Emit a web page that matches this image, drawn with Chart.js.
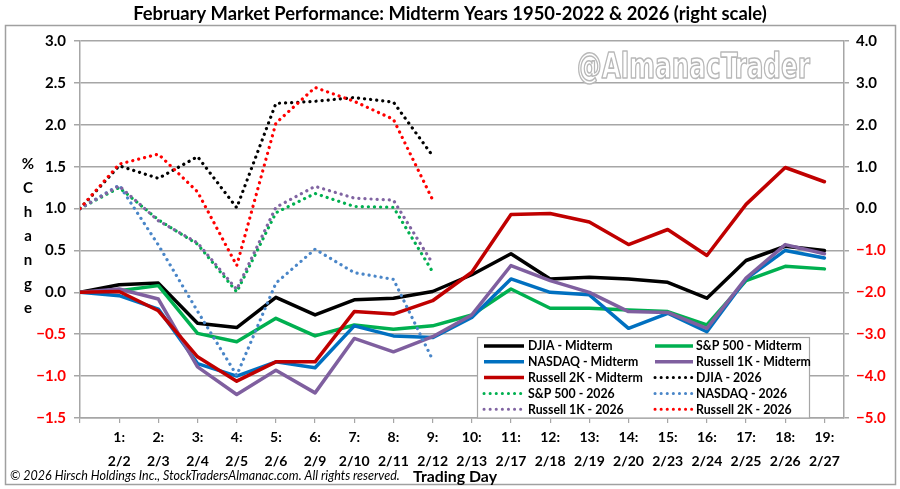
<!DOCTYPE html>
<html><head><meta charset="utf-8">
<script src="https://cdn.jsdelivr.net/npm/chart.js@4.4.1/dist/chart.umd.min.js"></script>
<style>html,body{margin:0;padding:0;background:#fff;overflow:hidden}#wrap{width:900px;height:489px;position:relative}</style>
</head><body><div id="wrap"><canvas id="c" width="900" height="489" style="width:900px;height:489px"></canvas></div>
<script>
// ---- data ----
const dayNumbers = ['1:','2:','3:','4:','5:','6:','7:','8:','9:','10:','11:','12:','13:','14:','15:','16:','17:','18:','19:'];
const dayDates = ['2/2','2/3','2/4','2/5','2/6','2/9','2/10','2/11','2/12','2/13','2/17','2/18','2/19','2/20','2/23','2/24','2/25','2/26','2/27'];
// midterm averages (left scale), day 0 .. 19
const djiaMidterm    = [0, 0.09, 0.11, -0.37, -0.42, -0.06, -0.27, -0.09, -0.07, 0.01, 0.21, 0.46, 0.16, 0.18, 0.16, 0.12, -0.07, 0.38, 0.55, 0.50];
const sp500Midterm   = [0, 0.02, 0.08, -0.49, -0.59, -0.31, -0.52, -0.39, -0.44, -0.40, -0.27, 0.04, -0.19, -0.19, -0.21, -0.23, -0.39, 0.14, 0.31, 0.28];
const nasdaqMidterm  = [0, -0.04, -0.20, -0.85, -1.00, -0.83, -0.90, -0.40, -0.52, -0.54, -0.30, 0.16, 0.00, -0.03, -0.43, -0.25, -0.47, 0.16, 0.50, 0.41];
const r1kMidterm     = [0, 0.04, -0.08, -0.89, -1.22, -0.93, -1.20, -0.55, -0.71, -0.53, -0.27, 0.32, 0.14, 0.00, -0.23, -0.24, -0.43, 0.17, 0.57, 0.46];
const r2kMidterm     = [0, 0.01, -0.22, -0.77, -1.06, -0.83, -0.83, -0.23, -0.26, -0.10, 0.24, 0.93, 0.94, 0.84, 0.57, 0.75, 0.44, 1.05, 1.49, 1.32];
// 2026 (right scale), day 0 .. 9
const djia2026   = [0, 1.02, 0.72, 1.24, 0.02, 2.51, 2.56, 2.65, 2.54, 1.26];
const sp5002026  = [0, 0.50, -0.27, -0.85, -1.99, -0.10, 0.36, 0.05, 0.03, -1.51];
const nasdaq2026 = [0, 0.56, -0.87, -2.45, -3.98, -1.78, -0.97, -1.53, -1.69, -3.61];
const r1k2026    = [0, 0.54, -0.29, -0.82, -1.93, 0.03, 0.53, 0.25, 0.20, -1.31];
const r2k2026    = [0, 1.06, 1.30, 0.40, -1.36, 2.04, 2.89, 2.56, 2.13, 0.21];
const leftMin = -1.5, leftMax = 3.0, leftStep = 0.5;
const rightMin = -5.0, rightMax = 4.0, rightStep = 1.0;
const titleText = 'February Market Performance: Midterm Years 1950-2022 & 2026 (right scale)';
const yTitleLetters = ['%','C','h','a','n','g','e'];
const xTitleText = 'Trading Day';
const copyrightText = '\u00A9 2026 Hirsch Holdings Inc., StockTradersAlmanac.com. All rights reserved.';
const watermarkText = '@AlmanacTrader';

// ---- styling ----
const FONT = 'Lato, "Open Sans", sans-serif';
const GRID = '#A6A6A6';
const pts = arr => arr.map((v, i) => ({x: i, y: v}));
function solid(label, data, color) {
  return {label, data: pts(data), borderColor: color, backgroundColor: color, borderWidth: 3.5,
    pointRadius: 0, tension: 0, yAxisID: 'yL', borderJoinStyle: 'round', borderCapStyle: 'round'};
}
function dotted(label, data, color) {
  return {label, data: pts(data), borderColor: color, backgroundColor: color, borderWidth: 3.2,
    borderDash: [0.1, 6], borderCapStyle: 'round', pointRadius: 0, tension: 0, yAxisID: 'yR'};
}
const datasets = [
  solid('DJIA - Midterm', djiaMidterm, '#000000'),
  solid('S&P 500 - Midterm', sp500Midterm, '#00B050'),
  solid('NASDAQ - Midterm', nasdaqMidterm, '#0070C0'),
  solid('Russell 1K - Midterm', r1kMidterm, '#7F5F9F'),
  solid('Russell 2K - Midterm', r2kMidterm, '#C00000'),
  dotted('DJIA - 2026', djia2026, '#000000'),
  dotted('S&P 500 - 2026', sp5002026, '#00B050'),
  dotted('NASDAQ - 2026', nasdaq2026, '#4A86C8'),
  dotted('Russell 1K - 2026', r1k2026, '#8064A2'),
  dotted('Russell 2K - 2026', r2k2026, '#FF0000'),
];
datasets.forEach((d, i) => d.order = datasets.length - i);

function fitFont(ctx, text, style, family, targetW) {
  ctx.font = style + ' 100px ' + family;
  const w = ctx.measureText(text).width;
  return style + ' ' + (100 * targetW / w).toFixed(2) + 'px ' + family;
}
const fmt = v => (v < 0 ? '\u2212' : '') + Math.abs(v).toFixed(1);
const tickColor = c => (c.tick && c.tick.value < -1e-9) ? '#FF0000' : '#000000';

const decor = {
  id: 'decor',
  beforeDraw(chart) {
    const ctx = chart.ctx;
    ctx.save();
    ctx.fillStyle = '#fff';
    ctx.fillRect(0, 0, chart.width, chart.height);
    ctx.strokeStyle = '#A0A0A0';
    ctx.lineWidth = 1.5;
    ctx.strokeRect(5.5, 25.5, 890, 459);
    ctx.restore();
  },
  beforeDatasetsDraw(chart) {
    const ctx = chart.ctx;
    ctx.save();
    // watermark
    const x0 = 577, targetW = 233;
    ctx.font = 'bold 36px "DejaVu Sans Condensed", "Liberation Sans Narrow", sans-serif';
    const w = ctx.measureText(watermarkText).width;
    ctx.translate(x0, 78);
    ctx.scale(targetW / w, 1);
    ctx.textBaseline = 'alphabetic';
    ctx.textAlign = 'left';
    ctx.lineJoin = 'round';
    ctx.fillStyle = '#FFFFFF';
    ctx.fillText(watermarkText, 0, 0);
    ctx.strokeStyle = '#B8B8B8';
    ctx.lineWidth = 1.6;
    ctx.strokeText(watermarkText, 0, 0);
    ctx.restore();
  },
  afterDraw(chart) {
    const ctx = chart.ctx;
    ctx.save();
    // title
    ctx.fillStyle = '#000';
    ctx.textBaseline = 'middle';
    ctx.textAlign = 'center';
    ctx.font = fitFont(ctx, titleText, 'bold', FONT, 634);
    ctx.fillText(titleText, 450, 14);
    // y title
    ctx.font = 'bold 15px ' + FONT;
    yTitleLetters.forEach((ch, i) => ctx.fillText(ch, 28, 164 + i * 24));
    // x title
    ctx.font = fitFont(ctx, xTitleText, 'bold', FONT, 84);
    ctx.fillText(xTitleText, 455, 477);
    // copyright
    ctx.textAlign = 'left';
    ctx.font = fitFont(ctx, copyrightText, 'italic', FONT, 390);
    ctx.fillText(copyrightText, 10, 476);
    // legend
    const bx = 477.5, by = 337.5, bw = 332, bh = 80.5;
    ctx.fillStyle = '#fff';
    ctx.fillRect(bx, by, bw, bh);
    ctx.strokeStyle = GRID;
    ctx.lineWidth = 1.2;
    ctx.strokeRect(bx, by, bw, bh);
    ctx.font = 'bold 12.3px ' + FONT;
    ctx.textBaseline = 'middle';
    chart.data.datasets.forEach((d, i) => {
      const row = Math.floor(i / 2), col = i % 2;
      const y = 346 + row * 15.8;
      const lx0 = col === 0 ? 484 : 655, lx1 = col === 0 ? 524 : 693, tx = col === 0 ? 528 : 696;
      ctx.save();
      ctx.strokeStyle = d.borderColor;
      ctx.lineWidth = d.borderDash ? 3 : 3.5;
      ctx.lineCap = d.borderDash ? 'round' : 'butt';
      ctx.setLineDash(d.borderDash || []);
      ctx.beginPath();
      ctx.moveTo(lx0, y); ctx.lineTo(lx1, y);
      ctx.stroke();
      ctx.restore();
      ctx.fillStyle = '#000';
      ctx.fillText(d.label, tx, y + 0.5);
    });
    ctx.restore();
  }
};

new Chart(document.getElementById('c'), {
  type: 'line',
  data: {datasets},
  plugins: [decor],
  options: {
    responsive: false,
    animation: false,
    events: [],
    layout: {padding: {top: 41, left: 0, right: 0, bottom: 0}},
    plugins: {legend: {display: false}, title: {display: false}, tooltip: {enabled: false}},
    scales: {
      x: {
        type: 'linear', min: 0, max: 19.5,
        afterFit: s => { s.height = 71; },
        afterBuildTicks: s => { s.ticks = [0].concat(dayDates.map((_, i) => i + 1)).map(v => ({value: v})); },
        grid: {drawOnChartArea: false, drawTicks: true, tickLength: 5, color: GRID, lineWidth: 1.2},
        border: {display: true, color: GRID, width: 1.5},
        ticks: {
          autoSkip: false, maxRotation: 0, minRotation: 0, padding: 2,
          color: '#000', font: {family: FONT, weight: 'bold', size: 14, lineHeight: 1.75},
          callback: v => v === 0 ? '' : [dayNumbers[v - 1], dayDates[v - 1]]
        }
      },
      yL: {
        type: 'linear', position: 'left', min: leftMin, max: leftMax,
        afterFit: s => { s.width = 80; },
        grid: {color: GRID, lineWidth: 1.5, drawTicks: true, tickLength: 6},
        border: {display: true, color: GRID, width: 1.5},
        ticks: {stepSize: leftStep, padding: 8, color: tickColor, callback: fmt,
          font: {family: FONT, weight: 'bold', size: 15}}
      },
      yR: {
        type: 'linear', position: 'right', min: rightMin, max: rightMax,
        afterFit: s => { s.width = 56; },
        grid: {drawOnChartArea: false, color: GRID, lineWidth: 1.5, drawTicks: true, tickLength: 5},
        border: {display: true, color: GRID, width: 1.5},
        ticks: {stepSize: rightStep, padding: 7, color: tickColor, callback: fmt,
          font: {family: FONT, weight: 'bold', size: 15}}
      }
    }
  }
});
</script></body></html>
